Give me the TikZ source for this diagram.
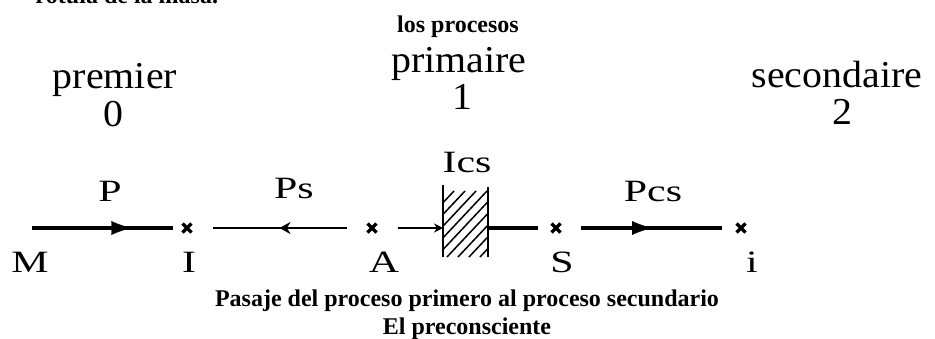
\documentclass[tikz,border=0pt]{standalone}
\usepackage{fontspec}
\setmainfont{Liberation Serif}
\newfontfamily\stagefont[FakeStretch=1.05]{Liberation Serif}
\newfontfamily\markfont[FakeStretch=1.35]{Liberation Serif}
\usetikzlibrary{arrows.meta,decorations.markings,shapes.misc,calc}

\begin{document}
\begin{tikzpicture}[x=1pt,y=-1pt,
  every node/.style={inner sep=0pt, outer sep=0pt},
  stage/.style={font=\stagefont\fontsize{38}{40}\selectfont, anchor=base},
  lbl/.style={font=\markfont\fontsize{31}{33}\selectfont, anchor=base},
  captext/.style={font=\bfseries\fontsize{24}{26}\selectfont, anchor=base},
  xmark/.style={draw, cross out, minimum size=9pt, line width=3.2pt},
  heavy/.style={line width=4.5pt},
  light/.style={line width=1.8pt},
  midhead/.style={postaction={decorate}, decoration={markings,
      mark=at position #1 with {\arrow{Latex[length=20pt,width=14pt,line width=0.4pt]}}}},
  midback/.style={postaction={decorate}, decoration={markings,
      mark=at position #1 with {\arrow{Stealth[length=11pt,width=12pt,line width=0.4pt]}}}},
]
\useasboundingbox (0,0) rectangle (935,338);

% heading fragment from the preceding line of text
\node[captext, anchor=base east] (prev) at (218,3) {rótula de la masa.};

% heading and the three stages
\node[captext] (title) at (458,32) {los procesos};
\node[stage] (s0) at (115,88) {premier};
\node[stage] (n0) at (113,126) {0};
\node[stage] (s1) at (459,72) {primaire};
\node[stage] (n1) at (462,109) {1};
\node[stage] (s2) at (837,87) {secondaire};
\node[stage] (n2) at (842,124) {2};

% points on the line
\coordinate (M0) at (32,228);
\node[xmark] (I) at (187,228) {};
\node[xmark] (A) at (372,228) {};
\node[xmark] (S) at (556,228) {};
\node[xmark] (i) at (741,228) {};

% hatched barrier
\node[minimum width=45pt, minimum height=69pt] (W) at (465.5,222.5) {};
\begin{scope}
  \clip (W.south west) rectangle (W.north east);
  \foreach \k in {0,...,10}
    \draw[line width=1.5pt] ($(W.south west)+(\k*11-62,0)$) -- ++(62,-66);
\end{scope}
\draw[line width=2.6pt] ([yshift=3pt]W.north west) -- (W.south west);
\draw[line width=2pt] ([yshift=1pt]W.north east) -- (W.south east);

% connectors
\draw[heavy, midhead=0.66, shorten >=10pt] (M0) -- (I);
\draw[light, midback=0.5, shorten <=21pt, shorten >=21pt] (A) -- (I);
\draw[light, -{Stealth[length=9pt,width=9pt]}, shorten <=21pt] (A) -- (W.west |- A);
\draw[heavy, shorten >=14pt] (W.east |- S) -- (S);
\draw[heavy, midhead=0.52, shorten <=20pt, shorten >=15pt] (S) -- (i);

% labels of the paths and points
\node[lbl] (lP) at (110,201) {P};
\node[lbl] (lPs) at (294,198) {Ps};
\node[lbl] (lIcs) at (467,172) {Ics};
\node[lbl] (lPcs) at (653,201) {Pcs};
\node[lbl] (lM) at (30,272) {M};
\node[lbl] (lI) at (189,272) {I};
\node[lbl] (lA) at (384,272) {A};
\node[lbl] (lS) at (562,272) {S};
\node[lbl] (li) at (752,272) {i};

% caption
\node[captext] (c1) at (467,306) {Pasaje del proceso primero al proceso secundario};
\node[captext] (c2) at (467,334) {El preconsciente};
\end{tikzpicture}
\end{document}
